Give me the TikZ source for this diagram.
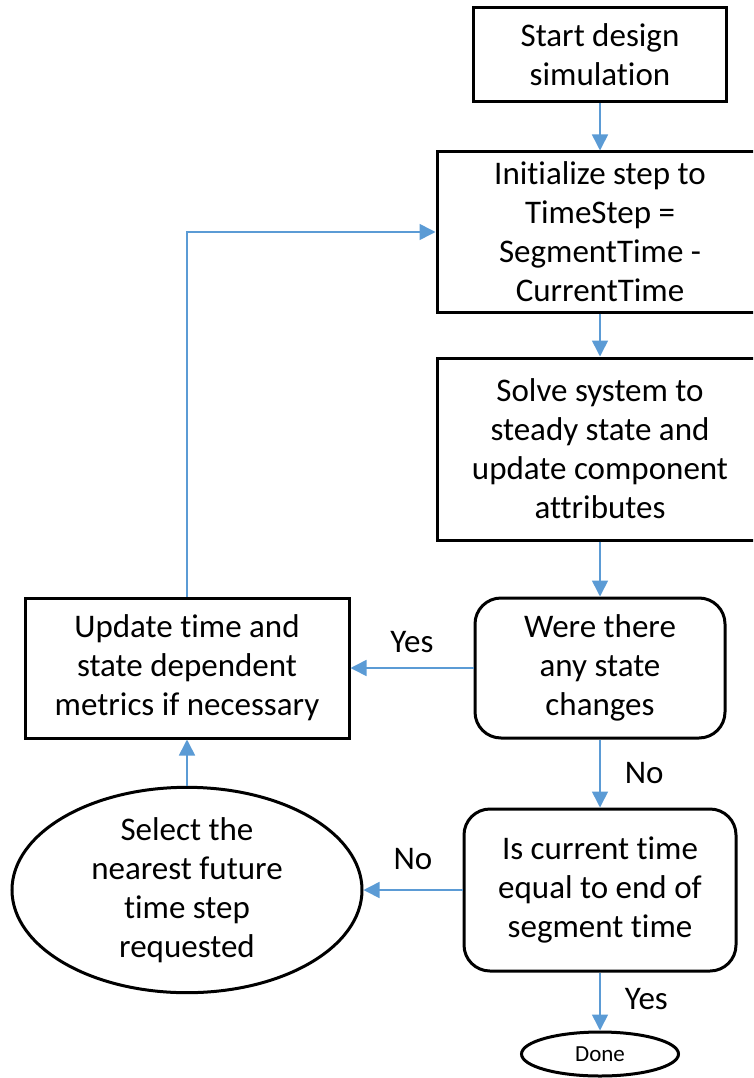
\documentclass[tikz,border=0pt]{standalone}
\usepackage{fontspec}
\setmainfont{Carlito}[Ligatures=NoCommon]
\usetikzlibrary{shapes.geometric,arrows.meta}

\definecolor{flowblue}{RGB}{91,155,213}
\tikzset{
  stepbox/.style={draw=black,line width=3pt,align=center,inner sep=0pt,
    font=\fontsize{33}{39}\selectfont},
  askbox/.style={stepbox,rounded corners=26pt},
  endcap/.style={stepbox,ellipse},
  flow/.style={draw=flowblue,line width=1.6pt,-{Triangle[length=16pt,width=16pt]}},
  answer/.style={font=\fontsize{33}{39}\selectfont,inner sep=4pt}
}

\begin{document}
\begin{tikzpicture}[x=1pt,y=-1pt]
\useasboundingbox (0,0) rectangle (753,1078);
\clip (0,0) rectangle (753,1078);
%main column
\node[stepbox,minimum width=253pt,minimum height=94pt] (start) at (600,55) {Start design\\simulation};
\node[stepbox,minimum width=326pt,minimum height=160pt] (init) at (600,232) {Initialize step to\\TimeStep =\\SegmentTime -\\CurrentTime};
\node[stepbox,minimum width=326pt,minimum height=182pt] (solve) at (600,449) {Solve system to\\steady state and\\update component\\attributes};
\node[askbox,minimum width=250pt,minimum height=140pt] (changes) at (600,668) {Were there\\any state\\changes};
\node[askbox,minimum width=272pt,minimum height=162pt] (endtime) at (600,890) {Is current time\\equal to end of\\segment time};
\node[endcap,minimum width=157pt,minimum height=44pt,font=\fontsize{23}{27}\selectfont] (done) at (600,1054) {Done};
%left column
\node[stepbox,minimum width=324pt,minimum height=140pt] (update) at (187,668) {Update time and\\state dependent\\metrics if necessary};
\node[endcap,minimum width=350pt,minimum height=179pt] (select) at (187,890) {Select the\\nearest future\\time step\\requested};

%arrows
\draw[flow] (start) -- (init);
\draw[flow] (init) -- (solve);
\draw[flow] (solve) -- (changes);
\draw[flow] (changes) -- node[answer,right=20pt,pos=0.5] (no1) {No} (endtime);
\draw[flow] (endtime) -- node[answer,right=20pt,pos=0.45] (yes2) {Yes} (done);
\draw[flow] (changes) -- node[answer,above=10pt,pos=0.5] (yes1) {Yes} (update);
\draw[flow] (endtime) -- node[answer,above=15pt,pos=0.5] (no2) {No} (select);
\draw[flow] (select) -- (update);
\draw[flow] (update.north) |- (init.west);
\end{tikzpicture}
\end{document}
